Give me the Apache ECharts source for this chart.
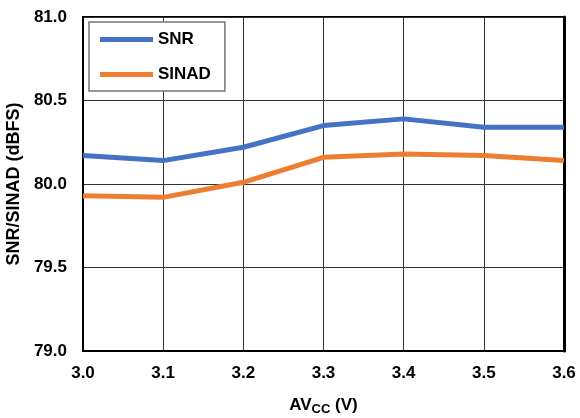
<!DOCTYPE html>
<html><head><meta charset="utf-8">
<script src="https://cdn.jsdelivr.net/npm/echarts@6/dist/echarts.min.js"></script>
<style>html,body{margin:0;padding:0;background:#fff}#c{width:580px;height:418px}</style>
</head><body><div id="c"></div>
<script>
const categories = ['3.0','3.1','3.2','3.3','3.4','3.5','3.6'];
const snr = [80.17, 80.14, 80.22, 80.35, 80.39, 80.34, 80.34];
const sinad = [79.93, 79.92, 80.01, 80.16, 80.18, 80.17, 80.14];
const seriesNames = ['SNR','SINAD'];

const font = 'Arial, "Liberation Sans", sans-serif';
const chart = echarts.init(document.getElementById('c'));
chart.setOption({
  animation: false,
  backgroundColor: '#fff',
  grid: {left: 83, right: 16, top: 17, bottom: 67, show: true, borderColor: '#000', borderWidth: 2,
         containLabel: false, outerBoundsMode: 'none'},
  legend: {
    data: seriesNames, orient: 'vertical', left: 89, top: 22,
    backgroundColor: '#fff', borderColor: '#777', borderWidth: 1.5,
    padding: [9, 14, 8, 11], itemGap: 18, itemWidth: 53, itemHeight: 5, icon: 'rect',
    textStyle: {fontFamily: font, fontWeight: 'bold', fontSize: 17, lineHeight: 17, color: '#000'}
  },
  xAxis: {
    type: 'category', data: categories, boundaryGap: false,
    axisLine: {lineStyle: {color: '#000', width: 2}}, axisTick: {show: false},
    axisLabel: {fontFamily: font, fontWeight: 'bold', fontSize: 17, color: '#000', margin: 14},
    splitLine: {show: true, lineStyle: {color: '#333', width: 1}},
    name: '{a|AV}{s|CC}{a| (V)}', nameLocation: 'middle', nameGap: 43,
    nameTextStyle: {rich: {
      a: {fontFamily: font, fontWeight: 'bold', fontSize: 17, color: '#000'},
      s: {fontFamily: font, fontWeight: 'bold', fontSize: 13, color: '#000', verticalAlign: 'bottom', padding: [9,0,0,0]}
    }}
  },
  yAxis: [{
    type: 'value', min: 79, max: 81, interval: 0.5,
    axisLine: {show: true, lineStyle: {color: '#000', width: 2}}, axisTick: {show: false},
    axisLabel: {fontFamily: font, fontWeight: 'bold', fontSize: 17, color: '#000', margin: 16,
      formatter: v => v.toFixed(1)},
    splitLine: {show: true, lineStyle: {color: '#333', width: 1}},
    name: 'SNR/SINAD (dBFS)', nameLocation: 'middle', nameGap: 56,
    nameTextStyle: {fontFamily: font, fontWeight: 'bold', fontSize: 18, color: '#000'}
  }, {
    type: 'value', position: 'right', min: 79, max: 81, interval: 0.5,
    axisLine: {show: true, lineStyle: {color: '#000', width: 3}}, axisTick: {show: false},
    axisLabel: {show: false}, splitLine: {show: false}
  }],
  series: [
    {name: seriesNames[0], type: 'line', data: snr, showSymbol: false, symbol: 'none',
     lineStyle: {color: '#4472C4', width: 5}, itemStyle: {color: '#4472C4'}},
    {name: seriesNames[1], type: 'line', data: sinad, showSymbol: false, symbol: 'none',
     lineStyle: {color: '#ED7D31', width: 5}, itemStyle: {color: '#ED7D31'}}
  ]
});
</script></body></html>
